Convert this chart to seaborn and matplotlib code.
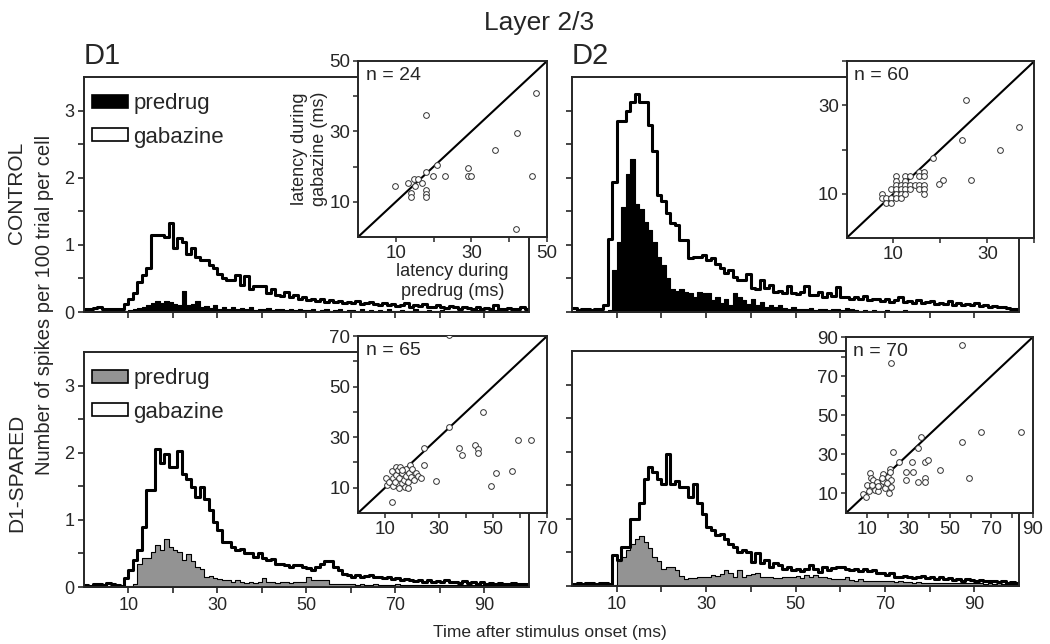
import numpy as np
import pandas as pd
import matplotlib
matplotlib.use("Agg")
import matplotlib.pyplot as plt
from matplotlib.patches import Patch
import seaborn as sns

sns.set_style("ticks")
plt.rcParams["font.family"] = ["Liberation Sans", "DejaVu Sans"]

# 1 ms bins, 0-100 ms after stimulus onset
bin_centers = np.arange(100) + 0.5

# spikes per 100 trials per cell, one value per 1-ms bin
ctrl_d1_pre = [
    0.02, 0.03, 0.02, 0.02, 0.03, 0.02, 0.02, 0.02, 0.03, 0.02,
    0.03, 0.04, 0.06, 0.08, 0.10, 0.14, 0.16, 0.13, 0.17, 0.15,
    0.12, 0.10, 0.32, 0.10, 0.12, 0.16, 0.07, 0.09, 0.06, 0.10,
    0.05, 0.07, 0.04, 0.08, 0.05, 0.06, 0.04, 0.07, 0.03, 0.05,
    0.04, 0.06, 0.03, 0.05, 0.04, 0.03, 0.04, 0.03, 0.05, 0.03,
    0.03, 0.04, 0.02, 0.03, 0.05, 0.02, 0.03, 0.04, 0.02, 0.03,
    0.03, 0.02, 0.04, 0.02, 0.03, 0.02, 0.03, 0.02, 0.04, 0.02,
    0.02, 0.03, 0.02, 0.02, 0.04, 0.02, 0.02, 0.03, 0.02, 0.02,
    0.03, 0.02, 0.02, 0.02, 0.03, 0.02, 0.02, 0.02, 0.03, 0.02,
    0.02, 0.02, 0.03, 0.02, 0.02, 0.02, 0.03, 0.02, 0.02, 0.02,
]
ctrl_d1_gab = [
    0.05, 0.04, 0.06, 0.08, 0.04, 0.04, 0.04, 0.05, 0.04, 0.12,
    0.19, 0.28, 0.45, 0.55, 0.65, 1.15, 1.15, 1.15, 1.12, 1.32,
    0.95, 1.10, 1.04, 0.87, 0.95, 0.82, 0.77, 0.77, 0.70, 0.65,
    0.57, 0.50, 0.47, 0.47, 0.55, 0.40, 0.53, 0.34, 0.38, 0.38,
    0.39, 0.28, 0.35, 0.25, 0.24, 0.30, 0.22, 0.25, 0.20, 0.22,
    0.18, 0.20, 0.17, 0.19, 0.15, 0.18, 0.15, 0.17, 0.13, 0.15,
    0.14, 0.16, 0.12, 0.13, 0.15, 0.12, 0.11, 0.14, 0.10, 0.12,
    0.09, 0.11, 0.13, 0.08, 0.10, 0.09, 0.12, 0.08, 0.07, 0.10,
    0.08, 0.06, 0.09, 0.07, 0.05, 0.08, 0.06, 0.05, 0.07, 0.04,
    0.06, 0.05, 0.10, 0.04, 0.05, 0.06, 0.04, 0.05, 0.08, 0.05,
]
ctrl_d2_pre = [
    0.02, 0.01, 0.02, 0.01, 0.02, 0.01, 0.01, 0.02, 0.03, 0.62,
    1.04, 1.56, 2.06, 2.28, 1.61, 1.54, 1.34, 1.22, 1.05, 0.82,
    0.70, 0.50, 0.35, 0.32, 0.35, 0.30, 0.28, 0.22, 0.30, 0.28,
    0.28, 0.18, 0.22, 0.13, 0.20, 0.10, 0.28, 0.22, 0.18, 0.12,
    0.20, 0.10, 0.15, 0.08, 0.10, 0.08, 0.10, 0.06, 0.05, 0.07,
    0.04, 0.05, 0.04, 0.06, 0.03, 0.05, 0.04, 0.03, 0.04, 0.05,
    0.03, 0.06, 0.04, 0.03, 0.02, 0.03, 0.02, 0.03, 0.02, 0.02,
    0.03, 0.02, 0.02, 0.02, 0.03, 0.02, 0.02, 0.02, 0.02, 0.02,
    0.02, 0.02, 0.02, 0.02, 0.02, 0.02, 0.02, 0.02, 0.02, 0.02,
    0.02, 0.02, 0.02, 0.02, 0.02, 0.02, 0.02, 0.02, 0.02, 0.02,
]
ctrl_d2_gab = [
    0.06, 0.03, 0.04, 0.04, 0.03, 0.05, 0.04, 0.10, 1.09, 1.94,
    2.85, 2.85, 3.00, 3.12, 3.25, 3.12, 3.12, 2.78, 2.40, 1.74,
    1.66, 1.47, 1.32, 1.30, 1.07, 1.07, 0.80, 0.82, 0.82, 0.85,
    0.77, 0.80, 0.72, 0.66, 0.58, 0.62, 0.52, 0.47, 0.47, 0.56,
    0.36, 0.35, 0.47, 0.36, 0.40, 0.30, 0.32, 0.28, 0.38, 0.28,
    0.27, 0.30, 0.38, 0.25, 0.26, 0.30, 0.22, 0.28, 0.24, 0.37,
    0.22, 0.23, 0.20, 0.22, 0.20, 0.24, 0.18, 0.20, 0.19, 0.17,
    0.20, 0.15, 0.18, 0.22, 0.15, 0.16, 0.14, 0.18, 0.13, 0.15,
    0.16, 0.12, 0.14, 0.12, 0.16, 0.11, 0.13, 0.10, 0.12, 0.10,
    0.14, 0.09, 0.10, 0.08, 0.09, 0.07, 0.08, 0.06, 0.05, 0.04,
]
spared_d1_pre = [
    0.02, 0.01, 0.02, 0.02, 0.01, 0.02, 0.03, 0.02, 0.01, 0.02,
    0.02, 0.05, 0.35, 0.43, 0.43, 0.52, 0.62, 0.55, 0.72, 0.60,
    0.55, 0.52, 0.40, 0.49, 0.38, 0.30, 0.27, 0.15, 0.16, 0.13,
    0.12, 0.10, 0.10, 0.08, 0.10, 0.08, 0.06, 0.08, 0.06, 0.07,
    0.14, 0.07, 0.08, 0.06, 0.07, 0.08, 0.06, 0.07, 0.08, 0.07,
    0.15, 0.10, 0.10, 0.10, 0.10, 0.05, 0.05, 0.04, 0.05, 0.04,
    0.05, 0.03, 0.04, 0.03, 0.03, 0.04, 0.03, 0.03, 0.03, 0.03,
    0.04, 0.03, 0.03, 0.03, 0.03, 0.03, 0.03, 0.03, 0.03, 0.03,
    0.03, 0.03, 0.03, 0.03, 0.03, 0.03, 0.03, 0.03, 0.03, 0.03,
    0.03, 0.03, 0.03, 0.03, 0.03, 0.03, 0.03, 0.03, 0.03, 0.03,
]
spared_d1_gab = [
    0.03, 0.02, 0.04, 0.05, 0.03, 0.06, 0.04, 0.03, 0.02, 0.13,
    0.25, 0.40, 0.55, 0.90, 1.44, 1.45, 2.06, 1.84, 1.98, 1.78,
    1.78, 2.03, 1.69, 1.61, 1.49, 1.34, 1.49, 1.31, 1.14, 0.97,
    0.85, 0.67, 0.67, 0.60, 0.55, 0.57, 0.50, 0.50, 0.45, 0.50,
    0.43, 0.40, 0.42, 0.35, 0.35, 0.33, 0.30, 0.33, 0.33, 0.30,
    0.28, 0.25, 0.30, 0.35, 0.38, 0.38, 0.30, 0.25, 0.20, 0.18,
    0.15, 0.18, 0.15, 0.16, 0.18, 0.15, 0.15, 0.13, 0.15, 0.12,
    0.13, 0.10, 0.12, 0.10, 0.09, 0.10, 0.08, 0.11, 0.08, 0.09,
    0.07, 0.10, 0.07, 0.08, 0.06, 0.09, 0.06, 0.07, 0.05, 0.08,
    0.05, 0.06, 0.04, 0.06, 0.05, 0.04, 0.06, 0.05, 0.04, 0.05,
]
spared_d2_pre = [
    0.02, 0.01, 0.02, 0.01, 0.02, 0.01, 0.02, 0.01, 0.02, 0.02,
    0.38, 0.43, 0.53, 0.63, 0.70, 0.75, 0.66, 0.56, 0.43, 0.38,
    0.26, 0.29, 0.29, 0.24, 0.15, 0.11, 0.12, 0.12, 0.13, 0.14,
    0.13, 0.16, 0.15, 0.18, 0.24, 0.19, 0.14, 0.24, 0.14, 0.16,
    0.18, 0.20, 0.14, 0.13, 0.14, 0.12, 0.12, 0.14, 0.14, 0.13,
    0.15, 0.12, 0.16, 0.14, 0.16, 0.13, 0.14, 0.12, 0.10, 0.11,
    0.10, 0.14, 0.09, 0.08, 0.10, 0.08, 0.08, 0.07, 0.08, 0.07,
    0.08, 0.07, 0.06, 0.07, 0.06, 0.06, 0.05, 0.06, 0.05, 0.05,
    0.05, 0.04, 0.05, 0.04, 0.05, 0.04, 0.04, 0.05, 0.04, 0.04,
    0.04, 0.04, 0.03, 0.04, 0.03, 0.04, 0.03, 0.03, 0.03, 0.03,
]
spared_d2_gab = [
    0.03, 0.04, 0.03, 0.05, 0.04, 0.03, 0.05, 0.04, 0.03, 0.46,
    0.39, 0.58, 0.58, 1.00, 1.00, 1.23, 1.60, 1.77, 1.70, 1.60,
    1.52, 1.97, 1.52, 1.57, 1.47, 1.47, 1.33, 1.52, 1.23, 1.08,
    0.88, 0.83, 0.76, 0.78, 0.70, 0.63, 0.58, 0.50, 0.54, 0.51,
    0.36, 0.49, 0.34, 0.39, 0.29, 0.34, 0.31, 0.26, 0.29, 0.24,
    0.26, 0.23, 0.26, 0.31, 0.26, 0.21, 0.29, 0.24, 0.27, 0.29,
    0.28, 0.26, 0.24, 0.26, 0.23, 0.26, 0.23, 0.24, 0.19, 0.19,
    0.17, 0.19, 0.14, 0.14, 0.15, 0.14, 0.12, 0.14, 0.15, 0.12,
    0.13, 0.11, 0.14, 0.10, 0.12, 0.09, 0.11, 0.08, 0.10, 0.09,
    0.08, 0.09, 0.07, 0.08, 0.07, 0.06, 0.07, 0.05, 0.06, 0.05,
]

# first-spike latencies (ms): predrug vs gabazine, one point per cell
ctrl_d1_lat_pre = [47.2, 18.0, 42.1, 36.1, 21.0, 18.0, 29.0, 29.0, 30.0, 19.9, 23.0, 46.1,
                   14.8, 15.9, 17.0, 13.1, 15.1, 9.9, 14.0, 18.0, 18.0, 18.0, 14.0, 41.9]
ctrl_d1_lat_gab = [40.8, 34.7, 29.6, 24.7, 20.5, 18.4, 19.5, 17.3, 17.3, 17.3, 17.3, 17.3,
                   16.4, 16.4, 15.4, 15.4, 14.5, 14.5, 12.4, 13.3, 12.3, 11.4, 11.4, 2.3]

ctrl_d2_lat_pre = [25.5, 36.7, 24.6, 32.7, 18.5, 26.6, 20.6, 19.6,
                   7.5, 7.5, 8.5, 8.5, 9.5, 9.5, 9.5, 10.5, 10.5, 10.5, 10.5, 10.5, 10.5,
                   11.5, 11.5, 11.5, 11.5, 12.5, 12.5, 12.5, 12.5, 12.5, 13.5, 13.5, 13.5,
                   14.5, 15.5, 15.5, 15.5, 15.5, 16.5, 16.5, 16.5, 16.5, 16.5]
ctrl_d2_lat_gab = [31.3, 25.2, 22.1, 19.9, 18.2, 13.1, 13.2, 12.1,
                   10, 9, 9, 8, 11, 9, 8, 14, 13, 12, 11, 10, 9,
                   12, 11, 10, 9, 14, 13, 12, 11, 10, 14, 12, 11,
                   12, 15, 14, 12, 11, 15, 14, 12, 11, 10]

spared_d1_lat_pre = [33.6, 46.3, 33.6, 59.3, 64.1, 24.6, 37.5, 38.5, 43.4, 44.5, 44.5, 24.6,
                     57.1, 51.2, 49.4, 28.7, 12.7,
                     10.5, 10.8, 11.5, 12.4, 13.0, 13.0, 14.0, 14.2, 14.8, 15.2, 15.7, 16.1,
                     16.4, 16.9, 17.3, 17.6, 17.9, 18.5, 18.9, 19.1, 19.7, 20.1, 20.7, 21.6,
                     22.2, 23.4, 15.2, 18.5, 16.1, 13.6]
spared_d1_lat_gab = [70.4, 40.0, 33.9, 28.9, 28.9, 25.8, 25.8, 22.8, 26.9, 25.2, 23.9, 19.0,
                     16.7, 15.7, 10.7, 12.8, 4.5,
                     13.7, 11.1, 12.4, 16.7, 13.7, 10.7, 15.0, 18.3, 17.0, 13.7, 18.1, 11.7,
                     15.7, 13.0, 10.4, 14.6, 17.3, 12.4, 16.0, 19.0, 14.3, 17.3, 13.0, 15.7,
                     14.6, 13.7, 9.8, 9.8, 17.0, 12.4]

spared_d2_lat_pre = [56.1, 21.6, 65.2, 84.1, 55.9, 35.9, 34.8, 22.8, 25.7, 31.7, 38.0, 39.3,
                     28.8, 32.1, 45.2, 28.8, 34.8, 38.0, 38.0, 59.3, 21.2,
                     8.3, 9.6, 11.5, 11.9, 11.5, 13.2, 13.9, 15.6, 16.3, 17.6, 17.9, 18.8,
                     20.4, 20.8, 21.2, 21.5, 21.9, 14.7, 10.3, 12.4, 17.2, 19.6, 11.3, 15.6]
spared_d2_lat_gab = [85.9, 76.5, 41.2, 41.2, 36.1, 39.0, 33.1, 31.0, 25.9, 25.9, 25.9, 27.1,
                     21.1, 21.1, 21.9, 16.9, 16.0, 17.7, 15.7, 17.7, 22.3,
                     9.5, 8.3, 20.4, 17.9, 12.8, 17.1, 11.9, 11.1, 14.5, 19.8, 16.4, 12.8,
                     18.6, 10.0, 21.1, 16.8, 13.4, 15.8, 14.2, 14.2, 17.9, 15.3, 11.1, 13.6]

panels = [
    # row, col, predrug, gabazine, predrug colour, lat_pre, lat_gab, n, inset limit
    (0, 0, ctrl_d1_pre, ctrl_d1_gab, "black", ctrl_d1_lat_pre, ctrl_d1_lat_gab, 24, 50),
    (0, 1, ctrl_d2_pre, ctrl_d2_gab, "black", ctrl_d2_lat_pre, ctrl_d2_lat_gab, 60, 40),
    (1, 0, spared_d1_pre, spared_d1_gab, "#939393", spared_d1_lat_pre, spared_d1_lat_gab, 65, 70),
    (1, 1, spared_d2_pre, spared_d2_gab, "#939393", spared_d2_lat_pre, spared_d2_lat_gab, 70, 90),
]

main_pos = {
    (0, 0): [0.080, 0.5155, 0.4238, 0.365],
    (0, 1): [0.5448, 0.5155, 0.4257, 0.365],
    (1, 0): [0.080, 0.0885, 0.4238, 0.365],
    (1, 1): [0.5448, 0.0900, 0.4257, 0.365],
}
inset_pos = {
    (0, 0): [0.341, 0.632, 0.180, 0.2733],
    (0, 1): [0.8062, 0.6304, 0.179, 0.2748],
    (1, 0): [0.341, 0.2034, 0.180, 0.2748],
    (1, 1): [0.8057, 0.2034, 0.178, 0.2733],
}

fig = plt.figure(figsize=(10.5, 6.44), dpi=100)

for row, col, pre, gab, pre_color, lat_pre, lat_gab, n_cells, lim in panels:
    ax = fig.add_axes(main_pos[(row, col)])
    hist_df = pd.DataFrame({"time": bin_centers, "pre": pre, "gab": gab})
    sns.histplot(data=hist_df, x="time", weights="pre", bins=100, binrange=(0, 100),
                 element="step", fill=True, color=pre_color, alpha=1, edgecolor="black",
                 linewidth=0.8, ax=ax)
    sns.histplot(data=hist_df, x="time", weights="gab", bins=100, binrange=(0, 100),
                 element="step", fill=False, color="black", linewidth=2.2, ax=ax)
    ax.set_xlim(0, 100)
    ax.set_ylim(0, 3.5)
    ax.set_xlabel("")
    ax.set_ylabel("")

    xt = list(range(10, 100, 10))
    ax.set_xticks(xt)
    if row == 1:
        ax.set_xticklabels([str(v) if v % 20 == 10 else "" for v in xt])
    else:
        ax.set_xticklabels([""] * len(xt))
    yt = [0, 0.5, 1, 1.5, 2, 2.5, 3]
    ax.set_yticks(yt)
    if col == 0:
        ax.set_yticklabels([str(int(v)) if v == int(v) else "" for v in yt])
    else:
        ax.set_yticklabels([""] * len(yt))
    ax.tick_params(direction="out", length=4, width=1.2, labelsize=13, pad=3,
                   top=False, right=False)
    for sp in ax.spines.values():
        sp.set_linewidth(1.4)

    if col == 0:
        handles = [Patch(facecolor=pre_color, edgecolor="black", linewidth=1.2),
                   Patch(facecolor="white", edgecolor="black", linewidth=1.2)]
        ax.legend(handles, ["predrug", "gabazine"], loc="upper left",
                  bbox_to_anchor=(0.018, 0.93), frameon=False, fontsize=16,
                  handlelength=1.6, handleheight=0.5, handletextpad=0.25,
                  labelspacing=0.55, borderpad=0, borderaxespad=0)

    # latency inset
    ins = fig.add_axes(inset_pos[(row, col)])
    ins.set_facecolor("white")
    ins.plot([0, lim], [0, lim], color="black", linewidth=1.5, zorder=2)
    lat_df = pd.DataFrame({"pre": lat_pre, "gab": lat_gab})
    sns.scatterplot(data=lat_df, x="pre", y="gab", ax=ins, marker="o", s=17, color="white",
                    edgecolor="#333333", linewidth=0.7, zorder=3)
    ins.set_xlim(0, lim)
    ins.set_ylim(0, lim)
    it = list(range(10, lim + 1, 10))
    lab = [str(v) if (v // 10) % 2 == 1 else "" for v in it]
    ins.set_xticks(it)
    ins.set_xticklabels(lab)
    ins.set_yticks(it)
    ins.set_yticklabels(lab)
    ins.tick_params(direction="out", length=3.5, width=1.1, labelsize=13.5, pad=2,
                    top=False, right=False)
    for sp in ins.spines.values():
        sp.set_linewidth(1.4)
    ins.text(0.04, 0.965, f"n = {n_cells}", transform=ins.transAxes, ha="left", va="top",
             fontsize=14)
    if row == 0 and col == 0:
        ins.set_xlabel("latency during\npredrug (ms)", fontsize=13, labelpad=1)
        ins.set_ylabel("latency during\ngabazine (ms)", fontsize=13, labelpad=1)
    else:
        ins.set_xlabel("")
        ins.set_ylabel("")

fig.text(0.513, 1 - 30 / 644, "Layer 2/3", ha="center", va="baseline", fontsize=19)
fig.text(84 / 1050, 1 - 64 / 644, "D1", ha="left", va="baseline", fontsize=21)
fig.text(572 / 1050, 1 - 64 / 644, "D2", ha="left", va="baseline", fontsize=21)
fig.text(17 / 1050, 1 - 193 / 644, "CONTROL", rotation=90, ha="center", va="center",
         fontsize=15)
fig.text(17 / 1050, 1 - 473 / 644, "D1-SPARED", rotation=90, ha="center", va="center",
         fontsize=15)
fig.text(45 / 1050, 1 - 305 / 644, "Number of spikes per 100 trial per cell", rotation=90,
         ha="center", va="center", fontsize=14.5)
fig.text(550 / 1050, 1 - 632 / 644, "Time after stimulus onset (ms)", ha="center",
         va="center", fontsize=12.5)

fig.savefig("out.png", dpi=100)
